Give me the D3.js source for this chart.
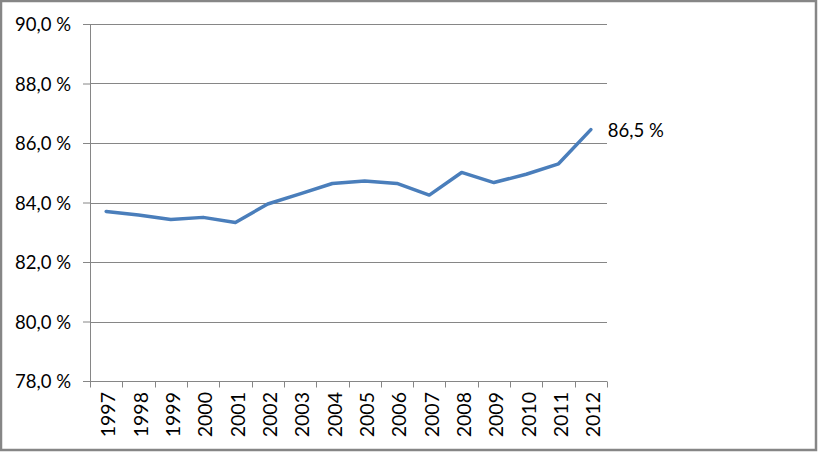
<!DOCTYPE html>
<html><head><meta charset="utf-8">
<script src="https://cdn.jsdelivr.net/npm/d3@7"></script>
<style>body{margin:0;background:#fff}svg{display:block}</style>
</head><body>
<script>
const years = ["1997","1998","1999","2000","2001","2002","2003","2004","2005","2006","2007","2008","2009","2010","2011","2012"];
const values = [83.70,83.58,83.43,83.50,83.33,83.95,84.29,84.64,84.72,84.64,84.25,85.01,84.67,84.95,85.30,86.45];
const yTicks = [78,80,82,84,86,88,90];
const lastLabel = "86,5 %";

(function(){
const W = 818, H = 452;
const svg = d3.select("body").append("svg").attr("width", W).attr("height", H);
svg.append("rect").attr("x",1).attr("y",1).attr("width",W-3).attr("height",H-3)
  .attr("fill","#fff").attr("stroke","#868686").attr("stroke-width",2.5);

const mLeft = 90, mRight = 607, mTop = 24, mBottom = 381;
const x = d3.scaleBand().domain(years).range([mLeft, mRight]);
const y = d3.scaleLinear().domain([78, 90]).range([mBottom, mTop]);
const fmt = v => d3.format(".1f")(v).replace(".", ",") + " %";

const yAxis = svg.append("g").attr("transform", `translate(${mLeft},0)`)
  .call(d3.axisLeft(y).tickValues(yTicks).tickSize(7).tickFormat(fmt));
yAxis.select(".domain").remove();
yAxis.selectAll(".tick line").attr("stroke","#868686");
yAxis.selectAll(".tick text").attr("x",-19).attr("dy","0.36em")
  .style("font-family","Lato, 'Open Sans', sans-serif").style("font-size","18.5px").attr("fill","#000");

svg.append("g").selectAll("line").data(yTicks.filter(d => d > 78)).join("line")
  .attr("x1", mLeft).attr("x2", mRight).attr("y1", d => Math.round(y(d))+0.5).attr("y2", d => Math.round(y(d))+0.5)
  .attr("stroke","#868686").attr("stroke-width",1);

svg.append("line").attr("x1",mLeft+0.5).attr("x2",mLeft+0.5).attr("y1",mTop).attr("y2",mBottom)
  .attr("stroke","#868686");

const xAxis = svg.append("g").attr("transform", `translate(0,${mBottom+0.5})`);
xAxis.append("line").attr("x1",mLeft).attr("x2",mRight).attr("stroke","#868686");
const edges = years.map(d => x(d)).concat([mRight]);
xAxis.selectAll("line.tk").data(edges).join("line").attr("class","tk")
  .attr("x1", d => Math.round(d)+0.5).attr("x2", d => Math.round(d)+0.5).attr("y1",0).attr("y2",6)
  .attr("stroke","#868686");
xAxis.selectAll("text").data(years).join("text")
  .attr("transform", d => `translate(${x(d)+x.bandwidth()/2+9.3},10.5) rotate(-90)`)
  .attr("text-anchor","end")
  .style("font-family","Lato, 'Open Sans', sans-serif").style("font-size","19.5px").attr("fill","#000")
  .text(d => d);

const line = d3.line().x((d,i) => x(years[i]) + x.bandwidth()/2).y(d => y(d));
svg.append("path").datum(values).attr("d", line).attr("fill","none")
  .attr("stroke","#4A7EBB").attr("stroke-width",3.5).attr("stroke-linejoin","round").attr("stroke-linecap","round");

svg.append("text").attr("x", x(years[years.length-1]) + x.bandwidth()/2 + 17).attr("y", y(values[values.length-1]) + 7)
  .style("font-family","Lato, 'Open Sans', sans-serif").style("font-size","18.5px").attr("fill","#000")
  .text(lastLabel);
})();
</script>
</body></html>
